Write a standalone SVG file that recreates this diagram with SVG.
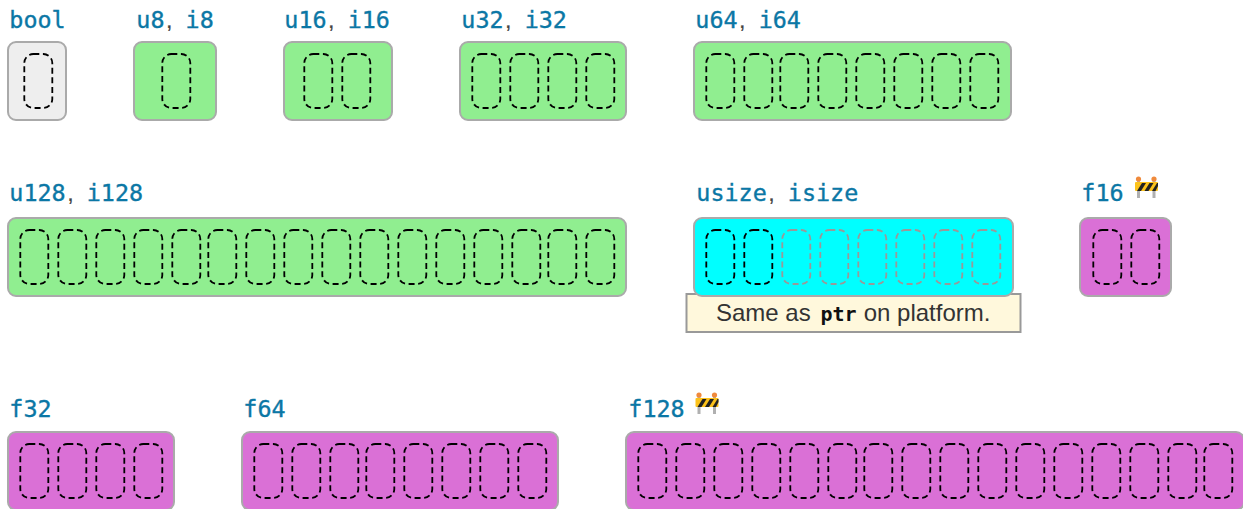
<svg xmlns="http://www.w3.org/2000/svg" xmlns:xlink="http://www.w3.org/1999/xlink" width="1243" height="509" viewBox="0 0 1243 509">
<style>
.box{stroke:#aaa;stroke-width:2}
.gray{fill:#eee}.green{fill:#90ee90}.cyan{fill:#0ff}.pink{fill:#da70d6}
.cell{fill:none;stroke:#000;stroke-width:1.8;stroke-dasharray:6 3.6}
.cell.dim{stroke:#999}
.lbl{font-family:"DejaVu Sans Mono","Liberation Mono",monospace;font-size:23.4px;fill:#0b77a5;stroke:#0b77a5;stroke-width:.35}
.lbl .c{font-family:"Liberation Sans",Arial,sans-serif;fill:#444;stroke:#444;stroke-width:.2}
.note{fill:#fff8dc;stroke:#999;stroke-width:2}
.nt{font-family:"Liberation Sans",Arial,sans-serif;font-size:24px;fill:#333}
.nt .m{font-family:"DejaVu Sans Mono","Liberation Mono",monospace;font-size:20px;font-weight:700;fill:#111}
</style>
<defs>
<rect id="c" x=".3" width="28" height="54" rx="9" ry="9"/>
<g id="barrier">
<rect x="2" y="4" width="3" height="18" fill="#b0b0b0"/>
<rect x="17.500" y="4" width="3" height="18" fill="#b0b0b0"/>
<circle cx="3.500" cy="3" r="2.600" fill="#f08a3c"/>
<circle cx="19" cy="3" r="2.600" fill="#f08a3c"/>
<rect x="0" y="6" width="23" height="9" rx="1" fill="#fcc21b"/>
<path d="M2 15 L7 7 H11 L6 15 Z M9.500 15 L14.500 7 H18.500 L13.500 15 Z M17 15 L22 7 H23 V10 L20.500 15 Z" fill="#222"/>
</g>
</defs>
<g id="connectors"/>
<g id="node-bool"><text class="lbl" x="9.300" y="28">bool</text><rect class="box gray" x="8" y="42" width="58" height="78" rx="8"/><use xlink:href="#c" class="cell" x="24" y="54"/></g>
<g id="node-u8"><text class="lbl" x="136.300" y="28">u8<tspan class="c" dx="1.500">,</tspan><tspan dx="-1"> i8</tspan></text><rect class="box green" x="134" y="42" width="82" height="78" rx="8"/><use xlink:href="#c" class="cell" x="162" y="54"/></g>
<g id="node-u16"><text class="lbl" x="284.300" y="28">u16<tspan class="c" dx="1.500">,</tspan><tspan dx="-1"> i16</tspan></text><rect class="box green" x="284" y="42" width="108" height="78" rx="8"/><use xlink:href="#c" class="cell" x="304" y="54"/><use xlink:href="#c" class="cell" x="342" y="54"/></g>
<g id="node-u32"><text class="lbl" x="461.300" y="28">u32<tspan class="c" dx="1.500">,</tspan><tspan dx="-1"> i32</tspan></text><rect class="box green" x="460" y="42" width="166" height="78" rx="8"/><use xlink:href="#c" class="cell" x="472" y="54"/><use xlink:href="#c" class="cell" x="510" y="54"/><use xlink:href="#c" class="cell" x="548" y="54"/><use xlink:href="#c" class="cell" x="586" y="54"/></g>
<g id="node-u64"><text class="lbl" x="695.300" y="28">u64<tspan class="c" dx="1.500">,</tspan><tspan dx="-1"> i64</tspan></text><rect class="box green" x="694" y="42" width="317" height="78" rx="8"/><use xlink:href="#c" class="cell" x="706" y="54"/><use xlink:href="#c" class="cell" x="744" y="54"/><use xlink:href="#c" class="cell" x="780" y="54"/><use xlink:href="#c" class="cell" x="818" y="54"/><use xlink:href="#c" class="cell" x="856" y="54"/><use xlink:href="#c" class="cell" x="894" y="54"/><use xlink:href="#c" class="cell" x="932" y="54"/><use xlink:href="#c" class="cell" x="970" y="54"/></g>
<g id="node-u128"><text class="lbl" x="9.300" y="201">u128<tspan class="c" dx="1.500">,</tspan><tspan dx="-1"> i128</tspan></text><rect class="box green" x="8" y="218" width="618" height="78" rx="8"/><use xlink:href="#c" class="cell" x="20" y="230"/><use xlink:href="#c" class="cell" x="58" y="230"/><use xlink:href="#c" class="cell" x="96" y="230"/><use xlink:href="#c" class="cell" x="134" y="230"/><use xlink:href="#c" class="cell" x="172" y="230"/><use xlink:href="#c" class="cell" x="208" y="230"/><use xlink:href="#c" class="cell" x="246" y="230"/><use xlink:href="#c" class="cell" x="284" y="230"/><use xlink:href="#c" class="cell" x="322" y="230"/><use xlink:href="#c" class="cell" x="360" y="230"/><use xlink:href="#c" class="cell" x="398" y="230"/><use xlink:href="#c" class="cell" x="436" y="230"/><use xlink:href="#c" class="cell" x="474" y="230"/><use xlink:href="#c" class="cell" x="512" y="230"/><use xlink:href="#c" class="cell" x="548" y="230"/><use xlink:href="#c" class="cell" x="586" y="230"/></g>
<g id="node-usize"><text class="lbl" x="696.300" y="201">usize<tspan class="c" dx="1.500">,</tspan><tspan dx="-1"> isize</tspan></text><rect class="note" x="686.500" y="294" width="334" height="38"/><text class="nt" x="716" y="321">Same as <tspan class="m" dx="3">ptr</tspan><tspan dx=".5"> on platform.</tspan></text><rect class="box cyan" x="694" y="218" width="319" height="78" rx="8"/><use xlink:href="#c" class="cell" x="706" y="230"/><use xlink:href="#c" class="cell" x="744" y="230"/><use xlink:href="#c" class="cell dim" x="782" y="230"/><use xlink:href="#c" class="cell dim" x="820" y="230"/><use xlink:href="#c" class="cell dim" x="858" y="230"/><use xlink:href="#c" class="cell dim" x="896" y="230"/><use xlink:href="#c" class="cell dim" x="934" y="230"/><use xlink:href="#c" class="cell dim" x="972" y="230"/></g>
<g id="node-f16"><text class="lbl" x="1081.300" y="201">f16</text><use xlink:href="#barrier" x="1135" y="176"/><rect class="box pink" x="1080" y="218" width="91" height="78" rx="8"/><use xlink:href="#c" class="cell" x="1093" y="230"/><use xlink:href="#c" class="cell" x="1131" y="230"/></g>
<g id="node-f32"><text class="lbl" x="9.300" y="417">f32</text><rect class="box pink" x="8" y="432" width="166" height="78" rx="8"/><use xlink:href="#c" class="cell" x="20" y="444"/><use xlink:href="#c" class="cell" x="58" y="444"/><use xlink:href="#c" class="cell" x="96" y="444"/><use xlink:href="#c" class="cell" x="134" y="444"/></g>
<g id="node-f64"><text class="lbl" x="243.300" y="417">f64</text><rect class="box pink" x="242" y="432" width="316" height="78" rx="8"/><use xlink:href="#c" class="cell" x="254" y="444"/><use xlink:href="#c" class="cell" x="292" y="444"/><use xlink:href="#c" class="cell" x="330" y="444"/><use xlink:href="#c" class="cell" x="366" y="444"/><use xlink:href="#c" class="cell" x="404" y="444"/><use xlink:href="#c" class="cell" x="442" y="444"/><use xlink:href="#c" class="cell" x="480" y="444"/><use xlink:href="#c" class="cell" x="518" y="444"/></g>
<g id="node-f128"><text class="lbl" x="628.300" y="417">f128</text><use xlink:href="#barrier" x="695.500" y="392"/><rect class="box pink" x="626" y="432" width="618" height="78" rx="8"/><use xlink:href="#c" class="cell" x="638" y="444"/><use xlink:href="#c" class="cell" x="676" y="444"/><use xlink:href="#c" class="cell" x="714" y="444"/><use xlink:href="#c" class="cell" x="752" y="444"/><use xlink:href="#c" class="cell" x="790" y="444"/><use xlink:href="#c" class="cell" x="828" y="444"/><use xlink:href="#c" class="cell" x="864" y="444"/><use xlink:href="#c" class="cell" x="902" y="444"/><use xlink:href="#c" class="cell" x="940" y="444"/><use xlink:href="#c" class="cell" x="978" y="444"/><use xlink:href="#c" class="cell" x="1016" y="444"/><use xlink:href="#c" class="cell" x="1054" y="444"/><use xlink:href="#c" class="cell" x="1092" y="444"/><use xlink:href="#c" class="cell" x="1130" y="444"/><use xlink:href="#c" class="cell" x="1168" y="444"/><use xlink:href="#c" class="cell" x="1204" y="444"/></g>
</svg>
